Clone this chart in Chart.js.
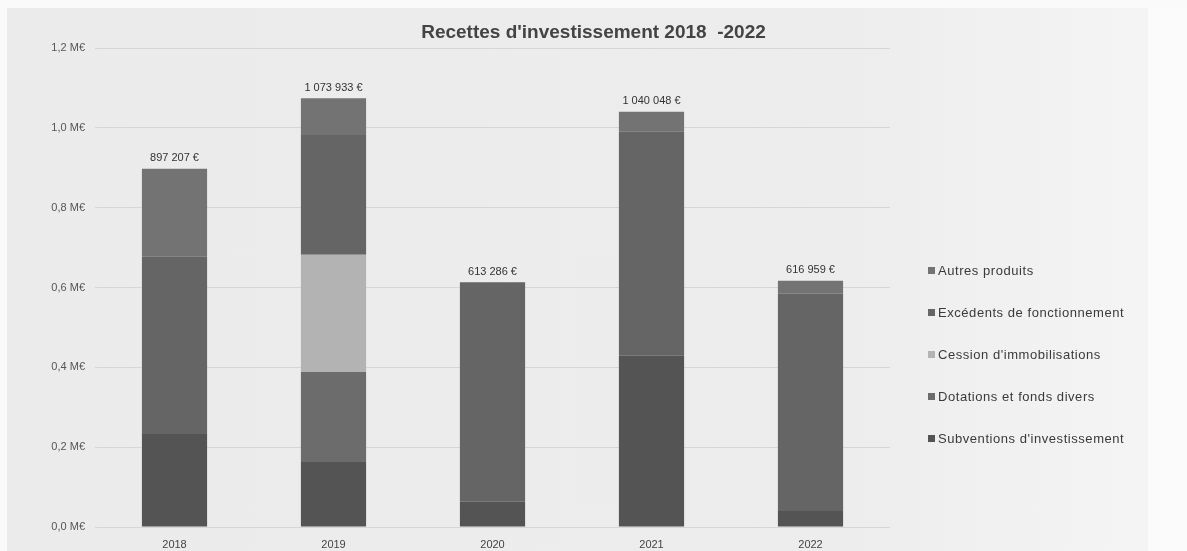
<!DOCTYPE html>
<html>
<head>
<meta charset="utf-8">
<script src="https://cdn.jsdelivr.net/npm/chart.js@4.4.1/dist/chart.umd.min.js"></script>
<style>
  html, body { margin: 0; padding: 0; background: #fafafa; }
  #wrap { position: relative; width: 1187px; height: 551px; overflow: hidden; }
  #paper { position: absolute; left: 7px; top: 8px; width: 1141px; height: 560px;
           background: linear-gradient(90deg, #ebebeb 0%, #ededed 75%, #f1f1f1 88%, #f4f4f4 100%); }
  #paper2 { position: absolute; left: 1148px; top: 8px; width: 40px; height: 560px; background: #fbfbfb; }
  canvas { position: absolute; left: 0; top: 0; }
  #title { position: absolute; left: 0; width: 1187px; top: 21px; text-align: center;
           font-family: "Liberation Sans", Arial, sans-serif; font-weight: bold; font-size: 19px; color: #444; }
  #legend { position: absolute; left: 928px; top: 263px; font-family: "Liberation Sans", Arial, sans-serif;
            font-size: 13px; letter-spacing: 0.55px; color: #3a3a3a; }
  #legend div { height: 42px; display: flex; align-items: flex-start; white-space: nowrap; }
  #legend span.box { display: inline-block; width: 7px; height: 7px; margin: 4px 3px 0 0; }
</style>
</head>
<body>
<div id="wrap">
  <div id="paper"></div>
  <div id="paper2"></div>
  <canvas id="chart" width="1187" height="551"></canvas>
  <div id="title">Recettes d'investissement 2018&nbsp; -2022</div>
  <div id="legend"></div>
</div>
<script>
const years = ["2018", "2019", "2020", "2021", "2022"];
const subventions = [233000, 163000, 63000, 429000, 40000];
const dotations = [0, 225000, 0, 0, 0];
const cessions = [0, 294000, 0, 0, 0];
const excedents = [444000, 300000, 550286, 561000, 545000];
const autres = [220207, 91933, 0, 50048, 31959];
const yTicks = [0, 200000, 400000, 600000, 800000, 1000000, 1200000];

const series = [
  { label: "Subventions d'investissement", data: subventions, color: "#545454" },
  { label: "Dotations et fonds divers", data: dotations, color: "#6c6c6c" },
  { label: "Cession d'immobilisations", data: cessions, color: "#b3b3b3" },
  { label: "Excédents de fonctionnement", data: excedents, color: "#656565" },
  { label: "Autres produits", data: autres, color: "#737373" }
];

const smallFont = "'Liberation Sans Narrow', 'Liberation Sans', sans-serif";

function euros(v) {
  return String(Math.round(v)).replace(/\B(?=(\d{3})+(?!\d))/g, " ") + " €";
}

// total above each stacked bar
const totalsPlugin = {
  id: "totals",
  afterDatasetsDraw(chart) {
    const ctx = chart.ctx;
    const yScale = chart.scales.y;
    const meta = chart.getDatasetMeta(0);
    ctx.save();
    ctx.font = "11px " + smallFont;
    ctx.fillStyle = "#333";
    ctx.textAlign = "center";
    ctx.textBaseline = "bottom";
    years.forEach((y, i) => {
      const total = series.reduce((s, d) => s + d.data[i], 0);
      ctx.fillText(euros(total), meta.data[i].x, yScale.getPixelForValue(total) - 5);
    });
    ctx.restore();
  }
};

const ctx = document.getElementById("chart").getContext("2d");
const chart = new Chart(ctx, {
  type: "bar",
  data: {
    labels: years,
    datasets: series.map(s => ({
      label: s.label,
      data: s.data,
      backgroundColor: s.color,
      borderWidth: 0,
      categoryPercentage: 1,
      barPercentage: 0.41
    }))
  },
  options: {
    responsive: false,
    animation: false,
    layout: { padding: { left: 45, right: 297, top: 48, bottom: 0 } },
    plugins: {
      legend: { display: false },
      tooltip: { enabled: false }
    },
    scales: {
      x: {
        stacked: true,
        grid: { display: false, drawTicks: false },
        border: { display: false },
        afterFit: axis => { axis.height = 24; },
        ticks: { color: "#444", padding: 11, font: { family: smallFont, size: 11 } }
      },
      y: {
        stacked: true,
        min: 0,
        max: 1200000,
        afterBuildTicks: axis => { axis.ticks = yTicks.map(v => ({ value: v })); },
        afterFit: axis => { axis.width = 50; },
        grid: { color: "#d6d6d6", lineWidth: 1, drawTicks: false },
        border: { display: false },
        ticks: {
          color: "#555",
          padding: 10,
          font: { family: smallFont, size: 11 },
          callback: v => (v / 1000000).toFixed(1).replace(".", ",") + " M€"
        }
      }
    }
  },
  plugins: [totalsPlugin]
});

const legend = document.getElementById("legend");
chart.data.datasets.slice().reverse().forEach(ds => {
  const row = document.createElement("div");
  const box = document.createElement("span");
  box.className = "box";
  box.style.background = ds.backgroundColor;
  row.appendChild(box);
  row.appendChild(document.createTextNode(ds.label));
  legend.appendChild(row);
});
</script>
</body>
</html>
